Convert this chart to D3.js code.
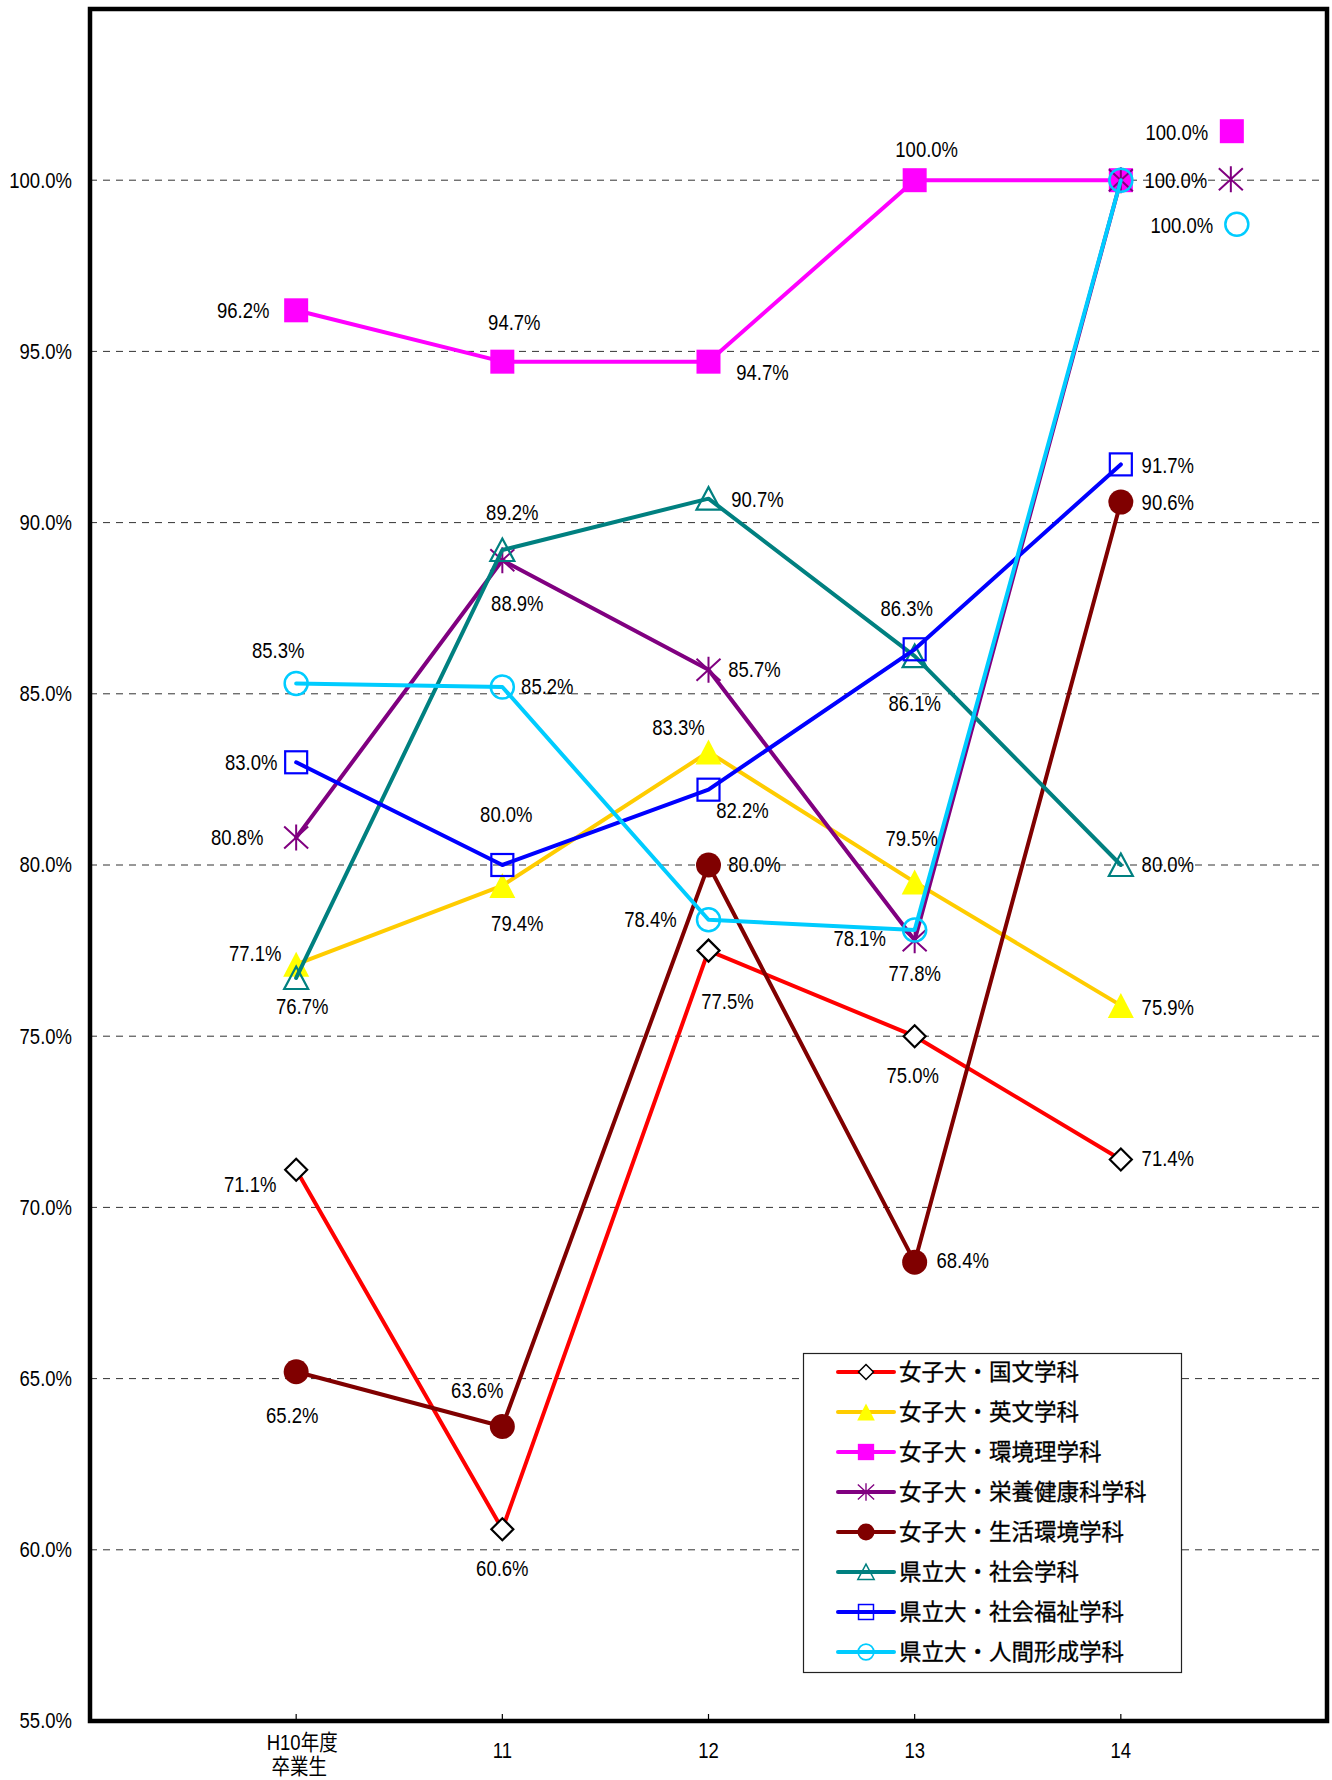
<!DOCTYPE html>
<html>
<head>
<meta charset="utf-8">
<script src="https://cdn.jsdelivr.net/npm/d3@7"></script>
<style>
  body { margin: 0; background: #fff; }
  svg { display: block; }
</style>
</head>
<body>
<svg id="chart" width="1332" height="1780"></svg>
<script>
// ---- data ----
const years = ["H10年度|卒業生", "11", "12", "13", "14"];
const seriesNames = [
  "女子大・国文学科", "女子大・英文学科", "女子大・環境理学科", "女子大・栄養健康科学科",
  "女子大・生活環境学科", "県立大・社会学科", "県立大・社会福祉学科", "県立大・人間形成学科"
];
const kokubun   = [71.1, 60.6, 77.5, 75.0, 71.4];
const eibun     = [77.1, 79.4, 83.3, 79.5, 75.9];
const kankyouri = [96.2, 94.7, 94.7, 100.0, 100.0];
const eiyou     = [80.8, 88.9, 85.7, 77.8, 100.0];
const seikatsu  = [65.2, 63.6, 80.0, 68.4, 90.6];
const shakai    = [76.7, 89.2, 90.7, 86.1, 80.0];
const fukushi   = [83.0, 80.0, 82.2, 86.3, 91.7];
const ningen    = [85.3, 85.2, 78.4, 78.1, 100.0];
const yTicks = [55, 60, 65, 70, 75, 80, 85, 90, 95, 100];

const seriesValues = [kokubun, eibun, kankyouri, eiyou, seikatsu, shakai, fukushi, ningen];

// ---- styling ----
const lineColors   = ["#FF0000", "#FFCC00", "#FF00FF", "#800080", "#800000", "#008080", "#0000FF", "#00CCFF"];
const markerKinds  = ["diamond", "triFill", "squareFill", "asterisk", "circleFill", "triOpen", "squareOpen", "circleOpen"];
const markerColors = ["#000000", "#FFFF00", "#FF00FF", "#800080", "#800000", "#008080", "#0000FF", "#00CCFF"];

// label nudges (dx, dy) from each point
const labelNudge = [
  [[-46, 15], [0, 39], [19, 51], [-2, 39], [47, -1]],
  [[-41, -11], [15, 38], [-30, -24], [-3, -44], [47, 2]],
  [[-53, 0], [12, -39], [54, 11], [12, -31], [56, -48]],
  [[-59, 0], [15, 43], [46, 0], [0, 33], [55, 0]],
  [[-4, 44], [-25, -36], [46, 0], [48, -2], [47, 0]],
  [[6, 29], [10, -37], [49, 1], [0, 47], [47, 0]],
  [[-45, 0], [4, -50], [34, 21], [-8, -41], [47, 1]],
  [[-18, -33], [45, 0], [-58, 0], [-55, 8], [61, 45]]
];
// series whose last label carries a legend key beside it
const keyedLast = [false, false, true, true, false, false, false, true];

// ---- layout ----
const plot = { left: 90, right: 1327, top: 9, bottom: 1721 };
const svg = d3.select("#chart");

const x = d3.scalePoint().domain(years).range([plot.left, plot.right]).padding(1);
const y = d3.scaleLinear().domain([55, 105]).range([plot.bottom, plot.top]);

const LATIN = "'Liberation Sans', Arial, 'Noto Sans CJK JP', sans-serif";
const fmt = v => d3.format(".1f")(v) + "%";

// text with slight vertical stretch
function stretchedText(g, tx, ty, str, anchor) {
  return g.append("text")
    .attr("transform", `translate(${tx},${ty}) scale(1,1.15)`)
    .attr("text-anchor", anchor || "middle")
    .attr("dy", "0.35em")
    .attr("font-family", LATIN)
    .attr("font-size", 18.5)
    .attr("fill", "#000")
    .text(str);
}

// gridlines
svg.append("g").selectAll("line")
  .data(yTicks.filter(t => t > 55))
  .join("line")
  .attr("x1", plot.left).attr("x2", plot.right)
  .attr("y1", d => y(d)).attr("y2", d => y(d))
  .attr("stroke", "#333").attr("stroke-width", 1)
  .attr("stroke-dasharray", "7,6");

// y tick labels
const yLab = svg.append("g");
yTicks.forEach(t => stretchedText(yLab, 72, y(t), fmt(t), "end"));

// x ticks (inside) and labels
const xg = svg.append("g");
years.forEach(c => {
  xg.append("line")
    .attr("x1", x(c)).attr("x2", x(c))
    .attr("y1", plot.bottom).attr("y2", plot.bottom - 7)
    .attr("stroke", "#000").attr("stroke-width", 1.2);
  const parts = c.split("|");
  if (parts.length === 2) {
    stretchedText(xg, x(c) + 6, 1743, parts[0]);
    stretchedText(xg, x(c) + 3, 1767, parts[1]);
  } else {
    stretchedText(xg, x(c), 1751, parts[0]);
  }
});

// marker drawing
function drawMarker(g, kind, color, cx, cy) {
  const m = g.append("g").attr("transform", `translate(${cx},${cy})`);
  switch (kind) {
    case "diamond":
      m.append("path").attr("d", "M0,-11L11,0L0,11L-11,0Z")
        .attr("fill", "#fff").attr("stroke", color).attr("stroke-width", 2.2);
      break;
    case "triFill":
      m.append("path").attr("d", "M0,-12.5L13,12.5L-13,12.5Z").attr("fill", color);
      break;
    case "triOpen":
      m.append("path").attr("d", "M0,-11.5L12,11L-12,11Z")
        .attr("fill", "none").attr("stroke", color).attr("stroke-width", 2.2);
      break;
    case "squareFill":
      m.append("rect").attr("x", -12).attr("y", -12).attr("width", 24).attr("height", 24)
        .attr("fill", color);
      break;
    case "squareOpen":
      m.append("rect").attr("x", -11).attr("y", -11).attr("width", 22).attr("height", 22)
        .attr("fill", "none").attr("stroke", color).attr("stroke-width", 2.2);
      break;
    case "circleFill":
      m.append("circle").attr("r", 12.5).attr("fill", color);
      break;
    case "circleOpen":
      m.append("circle").attr("r", 11.5)
        .attr("fill", "none").attr("stroke", color).attr("stroke-width", 2.5);
      break;
    case "asterisk":
      m.append("path").attr("d", "M-12,-11L12,11M-12,11L12,-11M0,-13L0,13")
        .attr("fill", "none").attr("stroke", color).attr("stroke-width", 2);
      break;
  }
}

// series lines, markers and value labels
const lineGen = d3.line().x((d, i) => x(years[i])).y(d => y(d));
const dataG = svg.append("g");
seriesValues.forEach((vals, s) => {
  const g = dataG.append("g");
  g.append("path").datum(vals)
    .attr("d", lineGen)
    .attr("fill", "none")
    .attr("stroke", lineColors[s])
    .attr("stroke-width", 4)
    .attr("stroke-linejoin", "round")
    .attr("stroke-linecap", "round");
  vals.forEach((v, i) => drawMarker(g, markerKinds[s], markerColors[s], x(years[i]), y(v)));
});

const labelG = svg.append("g");
seriesValues.forEach((vals, s) => {
  vals.forEach((v, i) => {
    const [dx, dy] = labelNudge[s][i];
    const lx = x(years[i]) + dx, ly = y(v) + dy;
    stretchedText(labelG, lx, ly, fmt(v));
    if (keyedLast[s] && i === vals.length - 1) {
      drawMarker(labelG, markerKinds[s], markerColors[s], lx + 55, ly - 1);
    }
  });
});

// plot frame
svg.append("rect")
  .attr("x", plot.left).attr("y", plot.top)
  .attr("width", plot.right - plot.left).attr("height", plot.bottom - plot.top)
  .attr("fill", "none").attr("stroke", "#000").attr("stroke-width", 4.5);

// legend
const leg = svg.append("g");
leg.append("rect")
  .attr("x", 803.5).attr("y", 1353.5).attr("width", 378).attr("height", 319)
  .attr("fill", "#fff").attr("stroke", "#222").attr("stroke-width", 1.2);
seriesNames.forEach((name, s) => {
  const cy = 1372 + s * 40;
  leg.append("line")
    .attr("x1", 838).attr("x2", 894).attr("y1", cy).attr("y2", cy)
    .attr("stroke", lineColors[s]).attr("stroke-width", 4).attr("stroke-linecap", "round");
  const mg = leg.append("g").attr("transform", `translate(${866},${cy}) scale(0.68)`);
  drawMarker(mg, markerKinds[s], markerColors[s], 0, 0);
  leg.append("text")
    .attr("x", 899).attr("y", cy).attr("dy", "0.36em")
    .attr("font-family", "'Noto Sans CJK JP', sans-serif")
    .attr("font-size", 22.5)
    .attr("fill", "#000")
    .attr("stroke", "#000").attr("stroke-width", 0.3)
    .text(name);
});
</script>
</body>
</html>
